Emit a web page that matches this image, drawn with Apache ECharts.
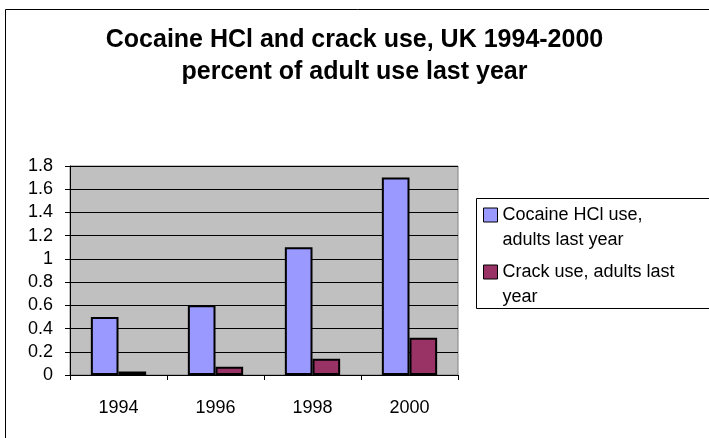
<!DOCTYPE html>
<html>
<head>
<meta charset="utf-8">
<title>Cocaine HCl and crack use, UK 1994-2000</title>
<script src="https://cdn.jsdelivr.net/npm/echarts@6/dist/echarts.min.js"></script>
<style>
  html, body { margin: 0; padding: 0; background: #fff; }
  #chart { width: 709px; height: 438px; }
</style>
</head>
<body>
<div id="chart"></div>
<script>
// Survey years and percentage of adults reporting use in the last year
const years = ['1994', '1996', '1998', '2000'];
const cocaineHclUse = [0.5, 0.6, 1.1, 1.7];
const crackUse = [0.03, 0.07, 0.14, 0.32];
const yTicks = [0, 0.2, 0.4, 0.6, 0.8, 1, 1.2, 1.4, 1.6, 1.8];

const seriesNames = ['Cocaine HCl use, adults last year', 'Crack use, adults last year'];
// Legend labels wrap onto two lines; a leading blank line keeps the swatch
// level with the first line of text.
const legendLines = {
  'Cocaine HCl use, adults last year': ' \nCocaine HCl use,\nadults last year',
  'Crack use, adults last year': ' \nCrack use, adults last\nyear'
};

const FONT = '"Liberation Sans", Arial, sans-serif';
const chart = echarts.init(document.getElementById('chart'), null, { renderer: 'canvas' });

chart.setOption({
  animation: false,
  backgroundColor: '#ffffff',
  title: {
    text: 'Cocaine HCl and crack use, UK 1994-2000\npercent of adult use last year',
    left: 'center',
    top: 24,
    padding: 0,
    textStyle: {
      fontFamily: FONT,
      fontSize: 25,
      fontWeight: 'bold',
      color: '#000',
      lineHeight: 32
    }
  },
  graphic: [
    // chart frame
    {
      type: 'rect', z: -1, silent: true,
      shape: { x: 5.5, y: 9.5, width: 760, height: 480 },
      style: { fill: 'none', stroke: '#000', lineWidth: 1 }
    },
    // legend frame
    {
      type: 'rect', z: 0, silent: true,
      shape: { x: 476.5, y: 198.5, width: 300, height: 110 },
      style: { fill: '#fff', stroke: '#000', lineWidth: 1 }
    }
  ],
  legend: {
    orient: 'vertical',
    left: 483,
    top: 177.5,
    padding: 0,
    itemGap: -18,
    itemWidth: 14,
    itemHeight: 14,
    icon: 'rect',
    selectedMode: false,
    data: seriesNames,
    formatter: name => legendLines[name],
    itemStyle: { borderColor: '#000', borderWidth: 1 },
    textStyle: {
      fontFamily: FONT,
      fontSize: 18,
      color: '#000',
      lineHeight: 25
    },
    z: 5
  },
  grid: {
    left: 70,
    right: 251,
    top: 166,
    bottom: 63,
    show: true,
    backgroundColor: '#C0C0C0',
    borderColor: '#808080',
    borderWidth: 1,
    containLabel: false
  },
  xAxis: {
    type: 'category',
    data: years,
    axisLine: { lineStyle: { color: '#000', width: 1 } },
    axisTick: { show: true, length: 5, alignWithLabel: false, lineStyle: { color: '#000' } },
    axisLabel: { fontFamily: FONT, fontSize: 18, color: '#000', margin: 24 },
    splitLine: { show: false }
  },
  yAxis: {
    type: 'value',
    min: yTicks[0],
    max: yTicks[yTicks.length - 1],
    interval: yTicks[1] - yTicks[0],
    axisLine: { show: true, lineStyle: { color: '#000', width: 1 } },
    axisTick: { show: true, length: 5, lineStyle: { color: '#000' } },
    axisLabel: {
      fontFamily: FONT, fontSize: 18, color: '#000', margin: 17,
      formatter: v => String(Math.round(v * 10) / 10)
    },
    splitLine: { show: true, lineStyle: { color: '#000', width: 1 } }
  },
  series: [
    {
      name: seriesNames[0],
      type: 'bar',
      data: cocaineHclUse,
      barGap: '0%',
      barCategoryGap: '43%',
      itemStyle: { color: '#9999FF', borderColor: '#000', borderWidth: 2 }
    },
    {
      name: seriesNames[1],
      type: 'bar',
      data: crackUse,
      barGap: '0%',
      barCategoryGap: '43%',
      itemStyle: { color: '#993366', borderColor: '#000', borderWidth: 2 }
    }
  ]
});
</script>
</body>
</html>
